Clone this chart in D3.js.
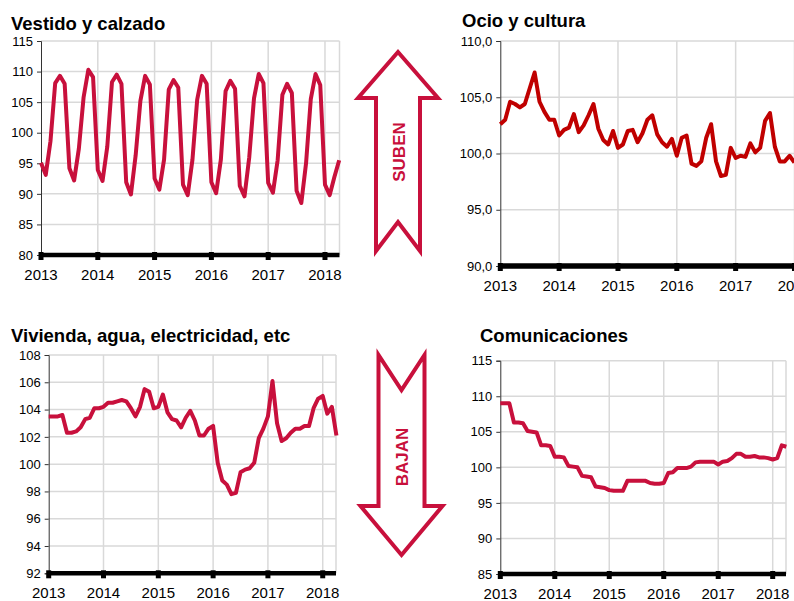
<!DOCTYPE html>
<html>
<head>
<meta charset="utf-8">
<script src="https://cdn.jsdelivr.net/npm/d3@7"></script>
<style>
  body { margin: 0; background: #fff; }
  svg { font-family: "Liberation Sans", Arial, sans-serif; }
  .title { font-weight: bold; font-size: 18.5px; fill: #000; }
  .tick text { font-size: 13px; fill: #000; }
</style>
</head>
<body>
<svg id="chart" width="794" height="601"></svg>
<script>
// months from Jan 2013 (index 0) to Apr 2018 (index 63)
const years = ["2013", "2014", "2015", "2016", "2017", "2018"];

const vestido = [95.1, 93.1, 98.6, 108.1, 109.3, 108.0, 94.2, 92.2, 97.4, 105.8, 110.3, 109.1,
  93.9, 92.1, 97.7, 108.3, 109.5, 108.0, 91.9, 89.9, 96.3, 105.2, 109.3, 107.9,
  92.5, 90.7, 95.6, 107.1, 108.6, 107.4, 91.5, 89.8, 95.6, 105.4, 109.3, 108.0,
  91.9, 90.1, 95.6, 106.8, 108.5, 107.2, 91.3, 89.6, 96.0, 105.6, 109.6, 108.1,
  91.8, 90.2, 95.5, 106.2, 108.0, 106.5, 90.5, 88.5, 95.0, 105.5, 109.6, 107.8,
  91.5, 89.8, 92.8, 95.5];

const ocio = [102.6, 103.0, 104.6, 104.4, 104.1, 104.4, 105.8, 107.2, 104.6, 103.7, 103.0, 103.0,
  101.6, 102.1, 102.3, 103.5, 101.9, 102.5, 103.4, 104.4, 102.2, 101.2, 100.8, 102.0,
  100.5, 100.8, 102.0, 102.1, 101.0, 101.8, 103.0, 103.4, 101.7, 101.0, 100.6, 101.3,
  99.8, 101.4, 101.6, 99.1, 98.9, 99.3, 101.4, 102.6, 99.3, 98.0, 98.1, 100.5,
  99.6, 99.8, 99.7, 100.9, 100.1, 100.5, 102.9, 103.6, 100.6, 99.3, 99.3, 99.8,
  99.2];

const vivienda = [103.5, 103.5, 103.5, 103.6, 102.3, 102.3, 102.4, 102.7, 103.3, 103.4, 104.1, 104.1,
  104.2, 104.5, 104.5, 104.6, 104.7, 104.6, 104.1, 103.5, 104.2, 105.5, 105.3, 104.1,
  104.2, 105.1, 103.8, 103.3, 103.2, 102.7, 103.4, 103.9, 103.2, 102.1, 102.1, 102.6,
  102.8, 100.1, 98.8, 98.5, 97.8, 97.9, 99.4, 99.6, 99.7, 100.1, 101.9, 102.6,
  103.5, 106.1, 103.0, 101.7, 101.9, 102.3, 102.6, 102.6, 102.8, 102.8, 104.1, 104.8,
  105.0, 103.7, 104.2, 102.1];

const comunicaciones = [109.0, 109.0, 109.0, 106.3, 106.3, 106.2, 105.1, 105.0, 104.9, 103.1, 103.1, 103.0,
  101.5, 101.5, 101.4, 100.2, 100.1, 100.0, 98.8, 98.7, 98.6, 97.3, 97.2, 97.1,
  96.8, 96.7, 96.7, 96.7, 98.1, 98.1, 98.1, 98.1, 98.1, 97.8, 97.7, 97.7,
  97.8, 99.2, 99.3, 99.9, 99.9, 99.9, 100.1, 100.7, 100.8, 100.8, 100.8, 100.8,
  100.4, 100.8, 100.9, 101.3, 101.9, 101.9, 101.5, 101.5, 101.6, 101.4, 101.4, 101.3,
  101.1, 101.3, 103.1, 102.9];

const RED = "#C8103C";

const panels = [
  { title: "Vestido y calzado", tx: 11, ty: 30, data: vestido, color: RED,
    x0: 41, step: 4.733, right: 339.5, top: 41, bottom: 255,
    yDomain: [80, 115], yTicks: d3.range(80, 116, 5), fmt: d3.format("d"), axisW: 4.5 },
  { title: "Ocio y cultura", tx: 462, ty: 27, data: ocio, color: "#C00000",
    x0: 500.3, step: 4.903, right: 810, top: 41, bottom: 266,
    yDomain: [90, 110], yTicks: d3.range(90, 111, 5), fmt: (d) => d3.format(".1f")(d).replace(".", ","), axisW: 5.5 },
  { title: "Vivienda, agua, electricidad, etc", tx: 11, ty: 342, data: vivienda, color: RED,
    x0: 48.7, step: 4.567, right: 336, top: 355, bottom: 573.3,
    yDomain: [92, 108], yTicks: d3.range(92, 109, 2), fmt: d3.format("d"), axisW: 4.5 },
  { title: "Comunicaciones", tx: 480, ty: 342, data: comunicaciones, color: RED,
    x0: 500.3, step: 4.54, right: 786, top: 360.7, bottom: 574,
    yDomain: [85, 115], yTicks: d3.range(85, 116, 5), fmt: d3.format("d"), axisW: 4.5 },
];

const svg = d3.select("#chart");

function drawPanel(p) {
  const g = svg.append("g");
  const x = d3.scaleLinear().domain([0, 1]).range([p.x0, p.x0 + p.step]);
  const y = d3.scaleLinear().domain(p.yDomain).range([p.bottom, p.top]);
  const yearIdx = years.map((d, i) => i * 12);

  // gridlines
  g.selectAll(".hgrid")
    .data(p.yTicks.slice(1))
    .enter()
    .append("line")
    .attr("x1", p.x0)
    .attr("x2", p.right)
    .attr("y1", (d) => y(d))
    .attr("y2", (d) => y(d))
    .attr("stroke", "#d9d9d9")
    .attr("stroke-width", 1.5);

  g.selectAll(".vgrid")
    .data(yearIdx.slice(1))
    .enter()
    .append("line")
    .attr("x1", (d) => x(d))
    .attr("x2", (d) => x(d))
    .attr("y1", p.top)
    .attr("y2", p.bottom)
    .attr("stroke", "#d9d9d9")
    .attr("stroke-width", 1.5);

  g.append("line")
    .attr("x1", p.right)
    .attr("x2", p.right)
    .attr("y1", p.top)
    .attr("y2", p.bottom)
    .attr("stroke", "#d9d9d9")
    .attr("stroke-width", 1.5);

  // y axis
  const yAxis = d3.axisLeft(y).tickValues(p.yTicks).tickFormat(p.fmt).tickSize(4).tickPadding(4);
  g.append("g")
    .attr("transform", "translate(" + p.x0 + ",0)")
    .call(yAxis)
    .call((a) => a.selectAll("line, path").attr("stroke", "#333"));

  // line
  const line = d3
    .line()
    .x((d, i) => x(i))
    .y((d) => y(d));

  g.append("path")
    .datum(p.data)
    .attr("fill", "none")
    .attr("stroke", p.color)
    .attr("stroke-width", 4)
    .attr("stroke-linejoin", "round")
    .attr("d", line);

  // thick bottom axis
  g.append("line")
    .attr("x1", p.x0)
    .attr("x2", p.right)
    .attr("y1", p.bottom)
    .attr("y2", p.bottom)
    .attr("stroke", "#000")
    .attr("stroke-width", p.axisW);

  g.selectAll(".ytick")
    .data(yearIdx)
    .enter()
    .append("rect")
    .attr("x", (d) => x(d) - 2.5)
    .attr("y", p.bottom - 3)
    .attr("width", 5)
    .attr("height", 8)
    .attr("fill", "#000");

  g.selectAll(".ylab")
    .data(years)
    .enter()
    .append("text")
    .attr("x", (d, i) => x(i * 12))
    .attr("y", p.bottom + 25)
    .attr("text-anchor", "middle")
    .attr("font-size", "15px")
    .text((d) => d);

  g.append("text").attr("class", "title").attr("x", p.tx).attr("y", p.ty).text(p.title);
}

panels.forEach(drawPanel);

// arrows
function arrow(cx, tipY, headY, endY, notchY, half, wing, labelY, label) {
  const pts = [
    [cx, tipY],
    [cx + wing, headY],
    [cx + half, headY],
    [cx + half, endY],
    [cx, notchY],
    [cx - half, endY],
    [cx - half, headY],
    [cx - wing, headY],
  ];
  svg.append("path")
    .attr("d", d3.line()(pts) + "Z")
    .attr("fill", "none")
    .attr("stroke", RED)
    .attr("stroke-width", 4)
    .attr("stroke-linejoin", "miter");
  svg.append("text")
    .attr("transform", "translate(" + (cx + 6.5) + "," + labelY + ") rotate(-90)")
    .attr("text-anchor", "middle")
    .attr("font-size", "17px")
    .attr("font-weight", "bold")
    .attr("fill", RED)
    .text(label);
}

arrow(398, 52, 98, 251, 222, 22, 40, 152, "SUBEN");
arrow(401.5, 555, 506, 355, 390, 23, 41, 457, "BAJAN");
</script>
</body>
</html>
